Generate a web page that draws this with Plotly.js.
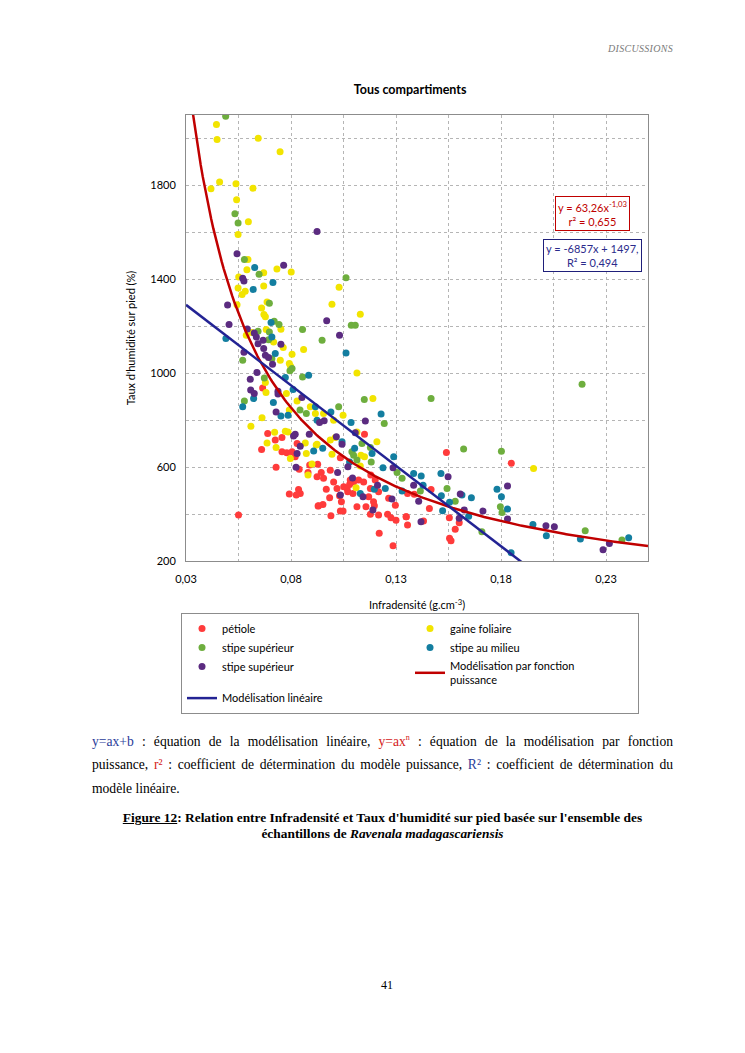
<!DOCTYPE html>
<html>
<head>
<meta charset="utf-8">
<script src="https://cdn.plot.ly/plotly-3.0.1.min.js"></script>
<style>
  body { margin:0; padding:0; background:#fff; width:745px; height:1053px; position:relative; overflow:hidden; }
  #chart { position:absolute; left:0; top:0; width:745px; height:760px; }
  .serif { font-family:"Liberation Serif","DejaVu Serif",serif; color:#000; }
  #header { position:absolute; right:72px; top:43px; font-size:10px; font-style:italic; color:#7a7a7a; letter-spacing:0.3px; }
  #para { position:absolute; left:92px; width:581px; top:726px; font-size:13.6px; line-height:23.6px; }
  #para .ln { display:block; text-align:justify; text-align-last:justify; }
  #para .ln.last { text-align:left; text-align-last:left; }
  #caption { position:absolute; left:92px; width:581px; top:810px; font-size:13.4px; line-height:16px; text-align:center; font-weight:bold; }
  #pagenum { position:absolute; left:381px; top:978px; font-size:12px; }
  .blue { color:#2b3d9a; }
  .red { color:#d42020; }
</style>
</head>
<body>
<div id="header" class="serif">DISCUSSIONS</div>
<div id="chart"></div>
<div id="para" class="serif"><span class="ln"><span class="blue">y=ax+b</span> : équation de la modélisation linéaire, <span class="red">y=ax<sup style="font-size:8px">n</sup></span> : équation de la modélisation par fonction</span><span class="ln">puissance, <span class="red">r²</span> : coefficient de détermination du modèle puissance, <span class="blue">R²</span> : coefficient de détermination du</span><span class="ln last">modèle linéaire.</span></div>
<div id="caption" class="serif"><u>Figure 12</u>: Relation entre Infradensité et Taux d'humidité sur pied basée sur l'ensemble des<br>échantillons de <i>Ravenala madagascariensis</i></div>
<div id="pagenum" class="serif">41</div>
<script>
// ---- Data (x = infradensité g/cm3, y = taux d'humidité %) ----
const petiole = [
  [0.0665,937],[0.0689,743],[0.0757,726],[0.0725,715],[0.066,675],[0.0757,665],[0.078,661],[0.0805,665],
  [0.055,396],[0.0729,599],[0.0829,701],[0.082,644],[0.0839,591],[0.0889,609],[0.0881,577],[0.0927,612],
  [0.0836,505],[0.0844,488],[0.0825,481],[0.0792,485],[0.0929,434],[0.0944,577],[0.0955,552],[0.0987,587],
  [0.1035,640],[0.1003,537],[0.0968,506],[0.0931,435],[0.0952,441],[0.099,393],[0.0984,469],[0.1019,509],
  [0.1031,478],[0.104,452],[0.1035,413],[0.1048,413],[0.1051,516],[0.1067,509],[0.1079,526],[0.107,495],
  [0.1098,537],[0.1122,545],[0.1146,537],[0.1114,431],[0.1157,431],[0.1178,509],[0.117,474],[0.1193,452],
  [0.1197,435],[0.1201,545],[0.1217,495],[0.118,566],[0.1217,396],[0.122,318],[0.1265,467],[0.1297,438],
  [0.126,399],[0.1276,384],[0.13,374],[0.1286,265],[0.1349,389],[0.1355,353],[0.115,740],[0.0924,559],
  [0.1095,488],[0.1178,399],[0.1082,545],[0.154,662],[0.1849,616],[0.1355,488],[0.1387,484],[0.1467,505],
  [0.1459,424],[0.1348,389],[0.1431,370],[0.1554,384],[0.1601,363],[0.1582,335],[0.1555,297],[0.1562,286]
];
const gaineFoliaire = [
  [0.0445,2059],[0.0448,1996],[0.0644,2001],[0.0748,1943],[0.046,1815],[0.0419,1786],[0.0538,1807],[0.0619,1788],
  [0.0541,1739],[0.0597,1645],[0.0548,1591],[0.0595,1484],[0.059,1441],[0.067,1428],[0.0733,1444],[0.0801,1431],
  [0.0551,1410],[0.0548,1363],[0.0582,1349],[0.0567,1335],[0.067,1371],[0.0543,1292],[0.0686,1303],[0.066,1278],
  [0.0671,1250],[0.0678,1240],[0.0752,1187],[0.0614,1173],[0.0682,1186],[0.0587,1162],[0.0717,1133],[0.0763,1109],
  [0.0749,1055],[0.0805,1081],[0.0792,1041],[0.0798,1030],[0.086,1101],[0.0678,960],[0.0681,918],[0.0778,914],
  [0.0829,882],[0.0792,843],[0.0662,810],[0.0609,774],[0.0722,748],[0.0773,753],[0.0786,750],[0.0686,703],
  [0.0729,684],[0.0797,637],[0.0873,658],[0.0868,703],[0.092,694],[0.09,613],[0.0881,566],[0.111,512],
  [0.1029,1366],[0.0995,1294],[0.113,1251],[0.1114,1001],[0.119,892],[0.1048,821],[0.0892,857],[0.0916,828],
  [0.0955,828],[0.1003,800],[0.1114,750],[0.1209,708],[0.1011,726],[0.0987,715],[0.0924,697],[0.0995,655],
  [0.1133,651],[0.115,644],[0.113,605],[0.1955,594]
];
const stipeSuperieur = [
  [0.0489,2095],[0.0533,1679],[0.0548,1640],[0.0578,1484],[0.0648,1422],[0.0697,1298],[0.072,1221],[0.0743,1207],
  [0.0855,1186],[0.0643,1179],[0.0697,1176],[0.0693,1143],[0.057,1055],[0.0709,1062],[0.0805,1020],[0.0795,1010],
  [0.0855,984],[0.0673,980],[0.0578,882],[0.0843,843],[0.1062,1407],[0.1087,1204],[0.1106,1204],[0.0948,1140],
  [0.1149,888],[0.1027,857],[0.1244,786],[0.0873,828],[0.109,665],[0.1138,701],[0.1178,684],[0.1098,651],
  [0.1114,630],[0.1182,622],[0.1305,577],[0.1329,552],[0.1416,498],[0.1622,677],[0.1802,668],[0.1543,509],
  [0.1582,455],[0.1709,325],[0.1797,431],[0.1805,407],[0.1467,892],[0.2186,953],[0.2201,329],[0.2376,289]
];
const stipeMilieu = [
  [0.0627,1450],[0.062,1357],[0.0714,1386],[0.0705,1216],[0.0709,1154],[0.049,1148],[0.0725,1084],[0.0773,982],
  [0.081,931],[0.0622,892],[0.057,857],[0.0716,875],[0.0752,818],[0.0786,821],[0.0908,669],[0.1062,1086],
  [0.0884,991],[0.0916,857],[0.099,835],[0.1229,826],[0.0924,800],[0.1086,790],[0.1043,708],[0.0951,680],
  [0.1103,680],[0.1186,658],[0.1079,622],[0.1289,644],[0.1238,597],[0.113,488],[0.1197,506],[0.1249,509],
  [0.1329,498],[0.1384,573],[0.142,562],[0.1429,523],[0.1514,573],[0.1516,478],[0.1555,450],[0.1614,481],
  [0.1659,469],[0.1522,414],[0.1646,391],[0.1781,506],[0.1802,474],[0.1831,421],[0.1848,235],[0.1952,356],
  [0.2016,308],[0.2178,294],[0.2408,299]
];
const stipeSuperieur2 = [
  [0.0924,1604],[0.0543,1509],[0.0765,1460],[0.057,1405],[0.0576,1393],[0.0498,1291],[0.0505,1207],[0.0592,1188],
  [0.0625,1171],[0.0635,1154],[0.0643,1126],[0.0667,1140],[0.0752,1123],[0.067,1105],[0.0576,1089],[0.0678,1077],
  [0.0693,1067],[0.0712,1038],[0.0638,1003],[0.0606,974],[0.0608,928],[0.0625,914],[0.0738,923],[0.0738,911],
  [0.0852,897],[0.0729,835],[0.0812,732],[0.082,740],[0.0844,689],[0.0829,658],[0.0824,599],[0.1022,577],
  [0.1035,481],[0.1071,601],[0.1093,554],[0.1143,474],[0.119,417],[0.1212,523],[0.1281,464],[0.1286,597],
  [0.1031,1162],[0.097,1224],[0.0936,790],[0.0958,797],[0.1154,796],[0.0887,740],[0.1016,729],[0.1043,697],
  [0.1106,746],[0.1384,523],[0.1408,455],[0.1419,367],[0.1548,559],[0.1606,485],[0.1601,382],[0.1625,417],
  [0.1714,413],[0.1831,520],[0.1831,379],[0.2014,350],[0.2054,346],[0.2286,248],[0.2316,275]
];
// Trendline equations displayed on the chart
const powerA = 63.26, powerN = -1.03;      // y = 63,26 x^-1,03
const linSlope = -6857, linIntercept = 1497; // y = -6857x + 1497
const xTickLabels = ['0,03','0,08','0,13','0,18','0,23'];
const xTickVals = [0.03,0.08,0.13,0.18,0.23];
const yTickLabels = ['200','600','1000','1400','1800'];
const yTickVals = [200,600,1000,1400,1800];

const seriesNames = ['pétiole','gaine foliaire','stipe supérieur','stipe au milieu','stipe supérieur'];
const seriesData = [petiole, gaineFoliaire, stipeSuperieur, stipeMilieu, stipeSuperieur2];
const seriesColors = ['#ff3b3b','#f2e400','#6eae3e','#137ea0','#5b2b80'];

const traces = seriesData.map((d,i)=>({
  type:'scatter', mode:'markers', name:seriesNames[i],
  x:d.map(p=>p[0]), y:d.map(p=>p[1]),
  marker:{color:seriesColors[i], size:7}
}));

// model curves from their equations
const curveX = [];
for (let x = 0.033; x <= 0.2505; x += 0.001) curveX.push(+x.toFixed(4));
traces.push({
  type:'scatter', mode:'lines', name:'Modélisation par fonction<br>puissance',
  x:curveX, y:curveX.map(x=>powerA*Math.pow(x,powerN)),
  line:{color:'#c00000', width:2.5}
});
const linX = [0.03, 0.25];
traces.push({
  type:'scatter', mode:'lines', name:'Modélisation linéaire',
  x:linX, y:linX.map(x=>linSlope*x+linIntercept),
  line:{color:'#232394', width:2.5}
});

const gridCol = '#b5b5b5';
const layout = {
  width:745, height:760,
  margin:{l:186, r:97, t:115, b:199},
  paper_bgcolor:'rgba(0,0,0,0)', plot_bgcolor:'#fff',
  separators:', ',
  font:{family:'Lato, "Open Sans", sans-serif', size:11, color:'#000'},
  title:{text:'<b>Tous compartiments</b>', font:{size:12.5, family:'Lato, sans-serif'}, x:0.485, xref:'paper', xanchor:'center', y:1-90/760, yref:'container', yanchor:'middle'},
  xaxis:{
    range:[0.03,0.25], tickvals:xTickVals, ticktext:xTickLabels,
    showgrid:true, gridcolor:gridCol, griddash:'3px,3px', gridwidth:1,
    minor:{tickvals:[0.055,0.105,0.155,0.205], showgrid:true, gridcolor:gridCol, griddash:'3px,3px', gridwidth:1},
    showline:true, linecolor:'#8c8c8c', linewidth:1, mirror:true,
    ticks:'outside', ticklen:8, tickcolor:'rgba(0,0,0,0)',
    zeroline:false, automargin:false,
    title:{text:'Infradensité (g.cm<sup>-3</sup>)', font:{size:11}, standoff:17}
  },
  yaxis:{
    range:[200,2100], tickvals:yTickVals, ticktext:yTickLabels,
    showgrid:true, gridcolor:gridCol, griddash:'3px,3px', gridwidth:1,
    minor:{tickvals:[400,800,1200,1600,2000], showgrid:true, gridcolor:gridCol, griddash:'3px,3px', gridwidth:1},
    showline:true, linecolor:'#8c8c8c', linewidth:1, mirror:true,
    ticks:'outside', ticklen:7, tickcolor:'rgba(0,0,0,0)',
    zeroline:false, automargin:false,
    title:{text:"Taux d'humidité sur pied (%)", font:{size:11}, standoff:12}
  },
  showlegend:true,
  legend:{
    orientation:'h', x:-0.0108, xanchor:'left', y:-0.1166, yanchor:'top',
    bordercolor:'#8c8c8c', borderwidth:1, bgcolor:'#fff',
    entrywidth:183, entrywidthmode:'pixels',
    font:{size:11}, traceorder:'normal', itemclick:false
  },
  annotations:[
    {xref:'paper', yref:'paper', x:0.879, y:0.779, xanchor:'center', yanchor:'middle', showarrow:false,
     text:'y = 63,26x<sup>-1,03</sup><br>r² = 0,655', font:{size:11, color:'#c00000'},
     bordercolor:'#c00000', borderwidth:1, borderpad:2, bgcolor:'#fff'},
    {xref:'paper', yref:'paper', x:0.879, y:0.686, xanchor:'center', yanchor:'middle', showarrow:false,
     text:'y = -6857x + 1497,<br>R² = 0,494', font:{size:11, color:'#2b2b8c'},
     bordercolor:'#1f1f7a', borderwidth:1, borderpad:2, bgcolor:'#fff'}
  ]
};
Plotly.newPlot('chart', traces, layout, {staticPlot:true, displayModeBar:false});
</script>
</body>
</html>
